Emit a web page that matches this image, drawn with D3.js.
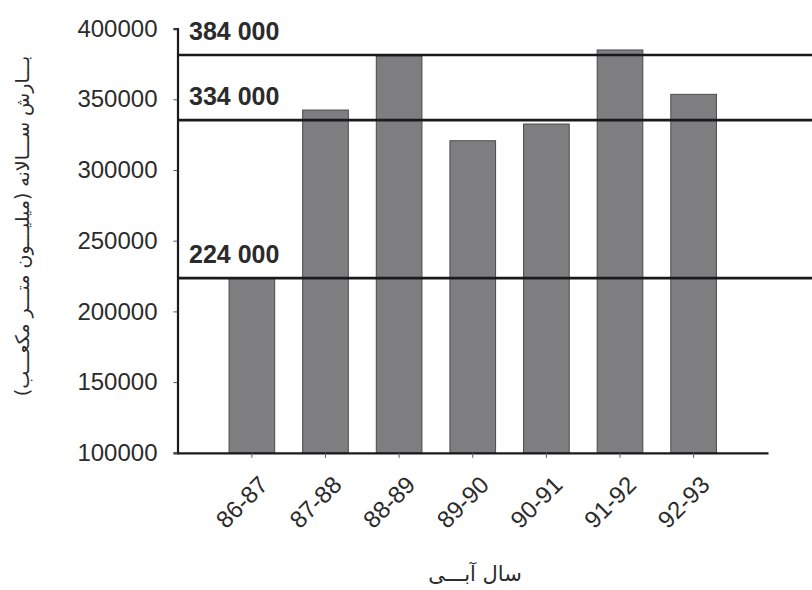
<!DOCTYPE html>
<html>
<head>
<meta charset="utf-8">
<script src="https://cdn.jsdelivr.net/npm/d3@7"></script>
<style>
  html, body { margin: 0; padding: 0; background: #ffffff; }
  svg { display: block; }
</style>
</head>
<body>
<svg id="chart" width="812" height="590"></svg>
<script>
// ---- data ----
const categories = ["86-87", "87-88", "88-89", "89-90", "90-91", "91-92", "92-93"];
const rainfall = [223500, 342400, 380600, 320700, 332500, 384900, 353500];
const refValues = [381300, 335300, 223500];
const refLabels = ["384 000", "334 000", "224 000"];
const yTicks = [100000, 150000, 200000, 250000, 300000, 350000, 400000];
const yTitle = "بـــارش ســـالانه (میلیـــون متـــر مکعـــب)";
const xTitle = "سال آبـــی";

// ---- layout ----
const svg = d3.select("#chart");
const plotLeft = 177.5, plotRight = 768, plotTop = 28.6, plotBottom = 452.8;

const x = d3.scaleBand().domain(categories).range([plotLeft, plotRight])
  .paddingInner(0.38).paddingOuter(0.7);
const y = d3.scaleLinear().domain([100000, 400000]).range([plotBottom, plotTop]);

const textColor = "#2b2b2b";

// bars
svg.append("g").selectAll("rect").data(categories).join("rect")
  .attr("x", d => x(d))
  .attr("width", x.bandwidth())
  .attr("y", (d, i) => y(rainfall[i]))
  .attr("height", (d, i) => plotBottom - y(rainfall[i]))
  .attr("fill", "#7e7e80")
  .attr("stroke", "#4a4a4a")
  .attr("stroke-width", 1);

// reference lines
svg.append("g").selectAll("line").data(refValues).join("line")
  .attr("x1", plotLeft).attr("x2", 812)
  .attr("y1", d => y(d)).attr("y2", d => y(d))
  .attr("stroke", "#1a1a1a").attr("stroke-width", 2.6);

svg.append("g").selectAll("text").data(refValues).join("text")
  .attr("x", 189)
  .attr("y", d => y(d) - 15)
  .attr("font-family", "Liberation Sans, Arial, sans-serif")
  .attr("font-weight", "bold")
  .attr("font-size", 25)
  .attr("fill", textColor)
  .text((d, i) => refLabels[i]);

// y axis
const yAxis = svg.append("g")
  .attr("transform", `translate(${plotLeft},0)`)
  .call(d3.axisLeft(y).tickValues(yTicks).tickFormat(d3.format("d")).tickSize(4).tickPadding(16));
yAxis.select(".domain").attr("stroke", "#1a1a1a").attr("stroke-width", 2.2);
yAxis.selectAll(".tick line").attr("stroke", "#555").attr("stroke-width", 1);
yAxis.selectAll(".tick text")
  .attr("font-family", "Liberation Sans, Arial, sans-serif")
  .attr("font-size", 24)
  .attr("fill", textColor);

// x axis
const xAxis = svg.append("g")
  .attr("transform", `translate(0,${plotBottom})`)
  .call(d3.axisBottom(x).tickSize(5).tickSizeOuter(0));
xAxis.select(".domain").attr("stroke", "#1a1a1a").attr("stroke-width", 2.2);
xAxis.selectAll(".tick line").attr("stroke", "#555").attr("stroke-width", 1);
xAxis.selectAll(".tick text")
  .attr("font-family", "Liberation Sans, Arial, sans-serif")
  .attr("font-size", 24)
  .attr("fill", textColor)
  .attr("text-anchor", "end")
  .attr("dy", "0.35em")
  .attr("transform", "translate(6,22) rotate(-45)");

// axis titles
svg.append("text")
  .attr("transform", "translate(29,226) rotate(-90)")
  .attr("text-anchor", "middle")
  .attr("font-family", "DejaVu Sans, sans-serif")
  .attr("font-size", 19)
  .attr("fill", textColor)
  .text(yTitle);

svg.append("text")
  .attr("x", 475).attr("y", 581)
  .attr("text-anchor", "middle")
  .attr("font-family", "DejaVu Sans, sans-serif")
  .attr("font-size", 21)
  .attr("fill", textColor)
  .text(xTitle);
</script>
</body>
</html>
